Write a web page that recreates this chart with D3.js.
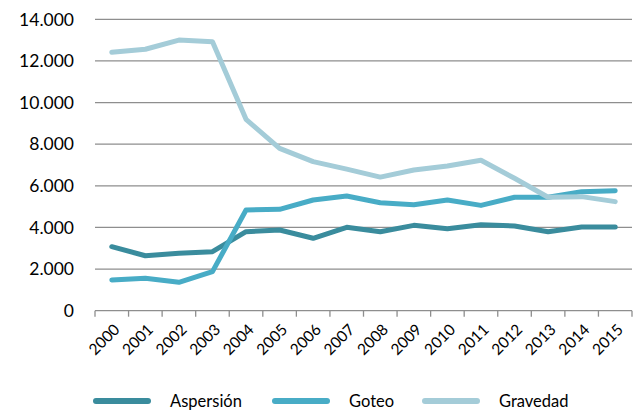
<!DOCTYPE html>
<html>
<head>
<meta charset="utf-8">
<script src="https://cdn.jsdelivr.net/npm/d3@7"></script>
<style>
  body { margin: 0; background: #fff; }
  text { font-family: Lato, "Open Sans", sans-serif; fill: #000; }
</style>
</head>
<body>
<div id="chart"></div>
<script>
const years = ["2000","2001","2002","2003","2004","2005","2006","2007","2008","2009","2010","2011","2012","2013","2014","2015"];
const aspersion = [3075,2640,2755,2835,3795,3875,3480,4005,3795,4100,3940,4130,4070,3795,4020,4020];
const goteo = [1475,1555,1365,1875,4840,4870,5320,5510,5190,5090,5320,5060,5450,5450,5720,5765];
const gravedad = [12415,12560,13000,12925,9195,7800,7160,6800,6420,6760,6950,7230,6360,5450,5480,5240];
const yTicks = [0,2000,4000,6000,8000,10000,12000,14000];

const series = [
  {name: "Aspersión", values: aspersion, color: "#3a8c9d"},
  {name: "Goteo", values: goteo, color: "#48acc6"},
  {name: "Gravedad", values: gravedad, color: "#a4ccd8"}
];

const W = 640, H = 410;
const margin = {top: 19.3, right: 8, bottom: 99.3, left: 95};

const svg = d3.select("#chart").append("svg")
  .attr("width", W).attr("height", H);

const x = d3.scaleBand().domain(years)
  .range([margin.left, W - margin.right]);
const y = d3.scaleLinear().domain([0, 14000])
  .range([H - margin.bottom, margin.top]);

const fmt = d => d3.format(",")(d).replace(/,/g, ".");

// gridlines
svg.append("g")
  .selectAll("line")
  .data(yTicks.filter(d => d > 0))
  .enter().append("line")
    .attr("x1", margin.left).attr("x2", W - margin.right)
    .attr("y1", d => y(d)).attr("y2", d => y(d))
    .attr("stroke", "#8e8e8e").attr("stroke-width", 1.3);

// y labels
svg.append("g")
  .selectAll("text")
  .data(yTicks)
  .enter().append("text")
    .attr("x", 74).attr("y", d => y(d))
    .attr("dy", "0.36em")
    .attr("text-anchor", "end")
    .attr("font-size", "17.5px")
    .text(fmt);

// x axis
const xAxis = svg.append("g")
  .attr("transform", "translate(0," + y(0) + ")");
xAxis.append("line")
  .attr("x1", margin.left).attr("x2", W - margin.right)
  .attr("stroke", "#8e8e8e").attr("stroke-width", 1.3);
xAxis.selectAll(".tk")
  .data(years.concat(["end"]))
  .enter().append("line")
    .attr("x1", (d, i) => margin.left + i * x.step())
    .attr("x2", (d, i) => margin.left + i * x.step())
    .attr("y1", 0).attr("y2", 6)
    .attr("stroke", "#8e8e8e").attr("stroke-width", 1.3);
xAxis.selectAll("text")
  .data(years)
  .enter().append("text")
    .attr("transform", d => "translate(" + (x(d) + x.bandwidth() / 2 + 5) + ",16) rotate(-45)")
    .attr("text-anchor", "end")
    .attr("dy", "0.35em")
    .attr("font-size", "15.5px")
    .text(d => d);

// lines
const line = d3.line()
  .x((d, i) => x(years[i]) + x.bandwidth() / 2)
  .y(d => y(d));

svg.append("g")
  .selectAll("path")
  .data(series)
  .enter().append("path")
    .attr("d", d => line(d.values))
    .attr("fill", "none")
    .attr("stroke", d => d.color)
    .attr("stroke-width", 5)
    .attr("stroke-linejoin", "round")
    .attr("stroke-linecap", "round");

// legend
const legX = [94, 273, 423];
const leg = svg.append("g")
  .selectAll("g")
  .data(series)
  .enter().append("g")
    .attr("transform", (d, i) => "translate(" + legX[i] + ",401)");
leg.append("line")
  .attr("x1", 2).attr("x2", 54)
  .attr("stroke", d => d.color)
  .attr("stroke-width", 6)
  .attr("stroke-linecap", "round");
leg.append("text")
  .attr("x", 76).attr("dy", "0.36em")
  .attr("font-size", "16.5px")
  .text(d => d.name);
</script>
</body>
</html>
